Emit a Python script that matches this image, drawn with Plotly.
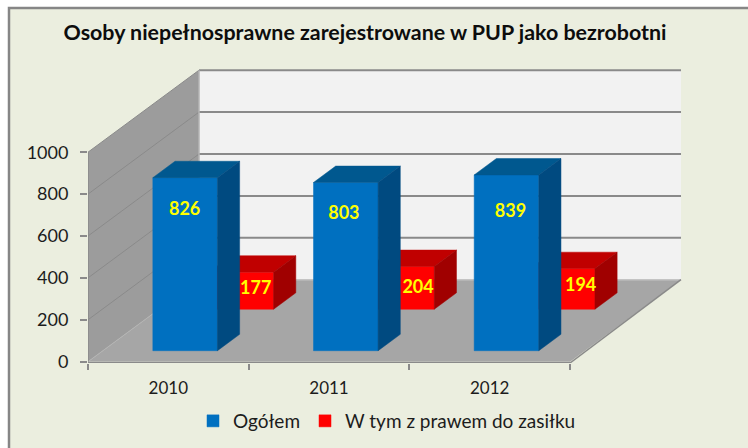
import plotly.graph_objects as go

YEARS = ["2010", "2011", "2012"]
OGOLEM = [826, 803, 839]
ZASILEK = [177, 204, 194]
Y_TICKS = [0, 200, 400, 600, 800, 1000]
TITLE = "Osoby niepełnosprawne zarejestrowane w PUP jako bezrobotni"

W, H = 748, 448
ML, MT, MR, MB = 88, 55, 58, 85
PW, PH = W - ML - MR, H - MT - MB
CAT_PX = 160.67
VAL_PX = 0.2095
X_RANGE = [0, PW / CAT_PX]
Y_LOW = -1.3 / VAL_PX
Y_RANGE = [Y_LOW, Y_LOW + PH / VAL_PX]
DX = 111 / CAT_PX     # oblique depth offset, category units
DY = 82 / VAL_PX      # oblique depth offset, value units
BAR_L, BAR_W, BAR_D = 0.311, 0.402, 0.2
D_BLUE, D_RED = 0.134, 0.64

GRID = "#8A8A8A"
FONT = "Lato"
TEXT = "#1C1C1C"


def proj(x, v, d):
    return x + d * DX, v + d * DY


def faces(vals, d):
    tx, ty, sx, sy = [], [], [], []
    for i, v in enumerate(vals):
        l, r = i + BAR_L, i + BAR_L + BAR_W
        top = [proj(l, v, d), proj(r, v, d), proj(r, v, d + BAR_D), proj(l, v, d + BAR_D), proj(l, v, d)]
        side = [proj(r, 0, d), proj(r, v, d), proj(r, v, d + BAR_D), proj(r, 0, d + BAR_D), proj(r, 0, d)]
        tx += [p[0] for p in top] + [None]
        ty += [p[1] for p in top] + [None]
        sx += [p[0] for p in side] + [None]
        sy += [p[1] for p in side] + [None]
    return tx, ty, sx, sy


def poly(x, y, color, xa, ya):
    return go.Scatter(x=x, y=y, mode="lines", fill="toself", fillcolor=color,
                      line=dict(width=0.5, color=color), hoverinfo="skip", showlegend=False,
                      xaxis=xa, yaxis=ya)


def bar(vals, d, name, color, xa, ya):
    return go.Bar(x=[i + BAR_L + BAR_W / 2 + d * DX for i in range(len(vals))],
                  y=vals, base=[d * DY] * len(vals), width=BAR_W, name=name,
                  marker=dict(color=color, line=dict(width=0.5, color=color)), xaxis=xa, yaxis=ya,
                  hovertemplate="%{y}<extra>" + name + "</extra>")


fig = go.Figure()

# series order: blue first for the legend; blue sits on the overlaying axes
fig.add_trace(bar(OGOLEM, D_BLUE, "Ogółem", "#0070C0", "x2", "y2"))
fig.add_trace(bar(ZASILEK, D_RED, "W tym z prawem do zasiłku", "#FF0000", "x", "y"))

tx, ty, sx, sy = faces(ZASILEK, D_RED)
fig.add_trace(poly(tx, ty, "#C00000", "x", "y"))
fig.add_trace(poly(sx, sy, "#A00000", "x", "y"))
tx, ty, sx, sy = faces(OGOLEM, D_BLUE)
fig.add_trace(poly(tx, ty, "#00588F", "x2", "y2"))
fig.add_trace(poly(sx, sy, "#004A80", "x2", "y2"))

# data labels
BLUE_NUDGE_X = [-0.003, -0.012, 0.025]
BLUE_LBL = [669, 651, 661]
RED_NUDGE_X = [0.09, 0.1, 0.112]
RED_LBL = [93, 97, 107]
fig.add_trace(go.Scatter(
    x=[i + BAR_L + BAR_W / 2 + D_BLUE * DX + n for i, n in enumerate(BLUE_NUDGE_X)],
    y=[D_BLUE * DY + h for h in BLUE_LBL], text=[str(v) for v in OGOLEM],
    mode="text", textfont=dict(family=FONT, size=18, color="#FFFF00", weight="bold"),
    hoverinfo="skip", showlegend=False, xaxis="x2", yaxis="y2"))
fig.add_trace(go.Scatter(
    x=[i + BAR_L + BAR_W / 2 + D_RED * DX + n for i, n in enumerate(RED_NUDGE_X)],
    y=[D_RED * DY + h for h in RED_LBL], text=[str(v) for v in ZASILEK],
    mode="text", textfont=dict(family=FONT, size=18, color="#FFFF00", weight="bold"),
    hoverinfo="skip", showlegend=False, xaxis="x2", yaxis="y2"))


def path(points):
    return "M" + " L".join(f"{x},{y}" for x, y in points) + " Z"


n = len(YEARS)
shapes = []
# chart frame, in paper coordinates
fx = lambda px: (px - ML) / PW
fy = lambda py: (H - MB - py) / PH
shapes.append(dict(type="rect", xref="paper", yref="paper", x0=fx(9), x1=fx(W + 10),
                   y0=fy(H + 10), y1=fy(8), fillcolor="#EBEEDF",
                   line=dict(color="#868686", width=2.5), layer="below"))
# left wall, back wall, floor
shapes.append(dict(type="path", xref="x", yref="y", layer="below", fillcolor="#9C9C9C",
                   path=path([proj(0, 0, 0), proj(0, 1000, 0), proj(0, 1000, 1), proj(0, 0, 1)]),
                   line=dict(width=0)))
shapes.append(dict(type="path", xref="x", yref="y", layer="below", fillcolor="#F2F2F2",
                   path=path([proj(0, 0, 1), proj(0, 1000, 1), proj(n, 1000, 1), proj(n, 0, 1)]),
                   line=dict(width=0)))
shapes.append(dict(type="path", xref="x", yref="y", layer="below", fillcolor="#A6A6A6",
                   path=path([proj(0, 0, 0), proj(n, 0, 0), proj(n, 0, 1), proj(0, 0, 1)]),
                   line=dict(width=0)))
# gridlines on walls
for t in Y_TICKS:
    a, b, c = proj(0, t, 0), proj(0, t, 1), proj(n, t, 1)
    col = GRID if t else "#B4B4B4"
    shapes.append(dict(type="line", xref="x", yref="y", layer="below", x0=a[0], y0=a[1], x1=b[0], y1=b[1],
                       line=dict(color=col, width=1)))
    shapes.append(dict(type="line", xref="x", yref="y", layer="below", x0=b[0], y0=b[1], x1=c[0], y1=c[1],
                       line=dict(color=GRID if t else "#C4C4C4", width=2 if t else 1.5)))
# frame edges of the box
for p, q, col, w in [
    (proj(0, 0, 0), proj(0, 1000, 0), GRID, 1.5),
    (proj(0, 0, 1), proj(0, 1000, 1), "#B4B4B4", 1.5),
    (proj(0, Y_LOW, 0), proj(n, Y_LOW, 0), GRID, 2),
    (proj(n, Y_LOW, 0), proj(n, 0, 1), GRID, 1.5),
]:
    shapes.append(dict(type="line", xref="x", yref="y", layer="below", x0=p[0], y0=p[1], x1=q[0], y1=q[1],
                       line=dict(color=col, width=w)))

fig.update_layout(
    width=W, height=H, autosize=False,
    margin=dict(l=ML, r=MR, t=MT, b=MB, pad=0, autoexpand=False),
    paper_bgcolor="#FFFFFF", plot_bgcolor="rgba(0,0,0,0)",
    font=dict(family=FONT, color=TEXT, size=17),
    title=dict(text=TITLE, x=365 / W, y=1 - 33 / H, xref="container", yref="container",
               xanchor="center", yanchor="middle",
               font=dict(family=FONT, size=21.4, color="#0D0D0D", weight="bold")),
    shapes=shapes,
    showlegend=True,
    legend=dict(orientation="h", x=fx(193), y=fy(421), xanchor="left", yanchor="middle",
                bgcolor="rgba(0,0,0,0)", font=dict(family=FONT, size=19, color=TEXT),
                itemclick=False, itemdoubleclick=False, traceorder="normal"),
    xaxis=dict(range=X_RANGE, tickmode="array", tickvals=[i + 0.5 for i in range(n)], ticktext=YEARS,
               ticks="", ticklabelstandoff=13, showgrid=False, zeroline=False, showline=False,
               tickfont=dict(family=FONT, size=17, color=TEXT),
               minor=dict(tickmode="array", tickvals=list(range(n + 1)), ticks="outside",
                          ticklen=6, tickwidth=2, tickcolor=GRID, showgrid=False)),
    yaxis=dict(range=Y_RANGE, tickmode="array", tickvals=Y_TICKS, ticks="outside", ticklen=7,
               tickwidth=2, tickcolor=GRID, ticklabelstandoff=8, showgrid=False, zeroline=False,
               showline=False, tickfont=dict(family=FONT, size=18, color=TEXT)),
    xaxis2=dict(range=X_RANGE, overlaying="x", visible=False, anchor="y2"),
    yaxis2=dict(range=Y_RANGE, overlaying="y", visible=False, anchor="x2"),
)

fig.write_html("out.html", config=dict(displayModeBar=False),
               post_script="document.body.style.margin='0';")
